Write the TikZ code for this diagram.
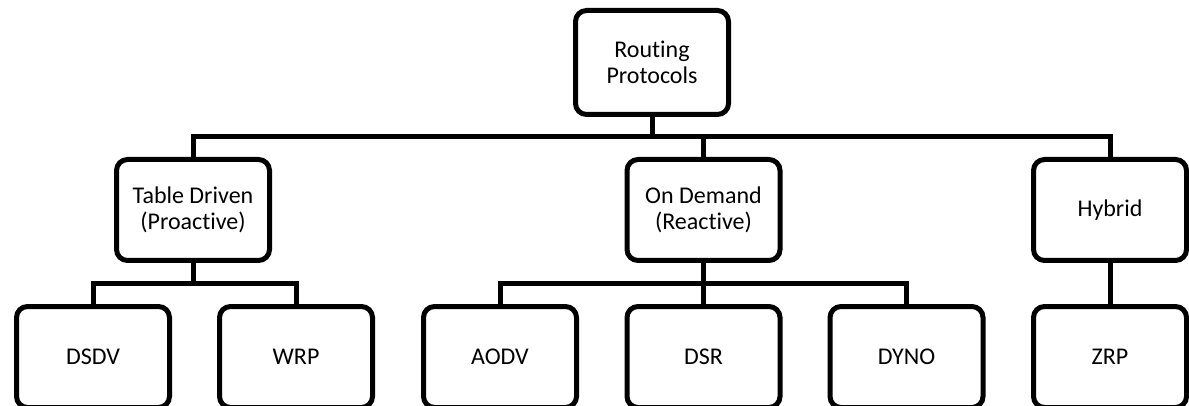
\documentclass[tikz,border=0pt]{standalone}
\usepackage{fontspec}
\setmainfont{Carlito}[Ligatures=NoCommon]
\begin{document}
\begin{tikzpicture}[x=1pt,y=-1pt,
  box/.style={draw=black, line width=5pt, rounded corners=11pt,
    minimum width=153pt, minimum height=101pt, inner sep=2pt,
    align=center, font=\fontsize{24}{25.5}\selectfont},
  link/.style={draw=black, line width=5pt}]
\useasboundingbox (0,0) rectangle (1189,406);
\clip (0,0) rectangle (1189,406);

% top level
\node[box, minimum height=104pt] (root) at (652,62.5) {Routing\\Protocols};

% protocol families
\node[box] (tab) at (193,210)   {Table Driven\\(Proactive)};
\node[box] (ond) at (703.5,210) {On Demand\\(Reactive)};
\node[box] (hyb) at (1110,210)  {Hybrid};

% protocols
\node[box] (dsdv) at (93,357)    {DSDV};
\node[box] (wrp)  at (296,357)   {WRP};
\node[box] (aodv) at (500,357)   {AODV};
\node[box] (dsr)  at (703.5,357) {DSR};
\node[box] (dyno) at (906.5,357) {DYNO};
\node[box] (zrp)  at (1110,357)  {ZRP};

% bus lines
\coordinate (busA) at (0,137);
\coordinate (busB) at (0,283);

\draw[link] (root.south) -- (root.south |- busA);
\draw[link] (tab.north) |- (busA -| hyb.north) -- (hyb.north);
\draw[link] (ond.north) -- (ond.north |- busA);

\draw[link] (tab.south) -- (tab.south |- busB);
\draw[link] (dsdv.north) |- (busB -| wrp.north) -- (wrp.north);

\draw[link] (ond.south) -- (dsr.north);
\draw[link] (aodv.north) |- (busB -| dyno.north) -- (dyno.north);

\draw[link] (hyb.south) -- (zrp.north);
\end{tikzpicture}
\end{document}
